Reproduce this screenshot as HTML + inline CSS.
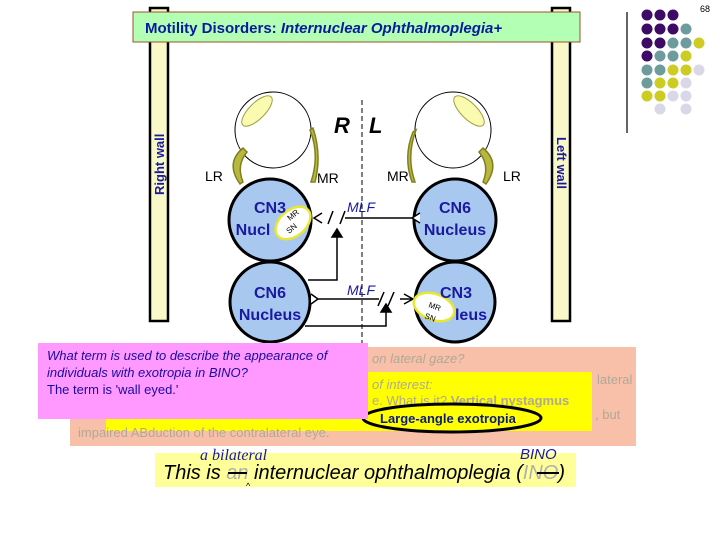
<!DOCTYPE html>
<html><head><meta charset="utf-8"><style>
html,body{margin:0;padding:0;background:#fff;}
svg{display:block;}
</style></head><body>
<svg width="720" height="540" viewBox="0 0 720 540" xmlns="http://www.w3.org/2000/svg" font-family="Liberation Sans, Arial, sans-serif">
<rect width="720" height="540" fill="#fff"/>
<g>
<circle cx="647" cy="15" r="5.5" fill="#3d0a66"/><circle cx="660" cy="15" r="5.5" fill="#3d0a66"/><circle cx="673" cy="15" r="5.5" fill="#3d0a66"/>
<circle cx="647" cy="29" r="5.5" fill="#3d0a66"/><circle cx="660" cy="29" r="5.5" fill="#3d0a66"/><circle cx="673" cy="29" r="5.5" fill="#3d0a66"/><circle cx="686" cy="29" r="5.5" fill="#6e9c9c"/>
<circle cx="647" cy="43" r="5.5" fill="#3d0a66"/><circle cx="660" cy="43" r="5.5" fill="#3d0a66"/><circle cx="673" cy="43" r="5.5" fill="#6e9c9c"/><circle cx="686" cy="43" r="5.5" fill="#6e9c9c"/><circle cx="699" cy="43" r="5.5" fill="#cccc22"/>
<circle cx="647" cy="56" r="5.5" fill="#3d0a66"/><circle cx="660" cy="56" r="5.5" fill="#6e9c9c"/><circle cx="673" cy="56" r="5.5" fill="#6e9c9c"/><circle cx="686" cy="56" r="5.5" fill="#cccc22"/>
<circle cx="647" cy="70" r="5.5" fill="#6e9c9c"/><circle cx="660" cy="70" r="5.5" fill="#6e9c9c"/><circle cx="673" cy="70" r="5.5" fill="#cccc22"/><circle cx="686" cy="70" r="5.5" fill="#cccc22"/><circle cx="699" cy="70" r="5.5" fill="#d8d8e8"/>
<circle cx="647" cy="83" r="5.5" fill="#6e9c9c"/><circle cx="660" cy="83" r="5.5" fill="#cccc22"/><circle cx="673" cy="83" r="5.5" fill="#cccc22"/><circle cx="686" cy="83" r="5.5" fill="#d8d8e8"/>
<circle cx="647" cy="96" r="5.5" fill="#cccc22"/><circle cx="660" cy="96" r="5.5" fill="#cccc22"/><circle cx="673" cy="96" r="5.5" fill="#d8d8e8"/><circle cx="686" cy="96" r="5.5" fill="#d8d8e8"/>
<circle cx="660" cy="109" r="5.5" fill="#d8d8e8"/><circle cx="686" cy="109" r="5.5" fill="#d8d8e8"/>
</g>
<line x1="627" y1="12" x2="627" y2="133" stroke="#000" stroke-width="1.2"/>
<text x="700" y="12" font-size="9" fill="#000">68</text>
<rect x="150" y="8" width="18" height="313" fill="#f8f8c8" stroke="#000" stroke-width="2.5"/>
<rect x="552" y="8" width="18" height="313" fill="#f8f8c8" stroke="#000" stroke-width="2.5"/>
<text transform="translate(164,195) rotate(-90)" font-size="13" font-weight="bold" fill="#1a1aa0">Right wall</text>
<text transform="translate(557,137) rotate(90)" font-size="13" font-weight="bold" fill="#1a1aa0">Left wall</text>
<rect x="133" y="12" width="447" height="30" fill="#b3ffb3" stroke="#a0522d" stroke-width="1"/>
<text x="145" y="33" font-size="15" font-weight="bold" fill="#0a1aa0">Motility Disorders: <tspan font-style="italic">Internuclear Ophthalmoplegia+</tspan></text>
<circle cx="273" cy="130" r="38" fill="#fff" stroke="#000" stroke-width="1"/>
<ellipse cx="257" cy="111" rx="8" ry="20" transform="rotate(45 257 111)" fill="#fafab0" stroke="#a0a040"/>
<circle cx="453" cy="130" r="38" fill="#fff" stroke="#000" stroke-width="1"/>
<ellipse cx="469" cy="111" rx="8" ry="20" transform="rotate(-45 469 111)" fill="#fafab0" stroke="#a0a040"/>
<path d="M243,148 Q225,163 240,184 L243,182 Q236,165 247,152Z" fill="#b8b840" stroke="#808020" stroke-width="1.5"/>
<path d="M310,130 Q320,155 311,182 L315,182 Q322,155 313,128Z" fill="#b8b840" stroke="#808020" stroke-width="1.5"/>
<path d="M416,130 Q406,157 415,182 L412,182 Q403,157 413,132Z" fill="#b8b840" stroke="#808020" stroke-width="1.5"/>
<path d="M483,148 Q501,163 486,184 L483,182 Q490,165 479,152Z" fill="#b8b840" stroke="#808020" stroke-width="1.5"/>
<g font-size="14" fill="#000">
<text x="205" y="181">LR</text><text x="317" y="183">MR</text>
<text x="387" y="181">MR</text><text x="503" y="181">LR</text>
</g>
<text x="334" y="133" font-size="22" font-weight="bold" font-style="italic" fill="#000">R</text>
<text x="369" y="133" font-size="22" font-weight="bold" font-style="italic" fill="#000">L</text>
<line x1="362" y1="100" x2="362" y2="420" stroke="#000" stroke-width="1" stroke-dasharray="5,3"/>
<g stroke="#000" stroke-width="3" fill="#a8c8f0">
<circle cx="270" cy="220" r="41"/><circle cx="270" cy="302" r="40"/>
<circle cx="455" cy="220" r="41"/><circle cx="455" cy="302" r="40"/>
</g>
<g stroke="#000" stroke-width="1.5" fill="none">
<line x1="345" y1="218" x2="412" y2="218"/>
<path d="M322,213 L314,218 L322,223"/>
<path d="M420,213 L412,218 L420,223" fill="#fff"/>
<line x1="328" y1="224" x2="333" y2="211"/><line x1="340" y1="224" x2="345" y2="211"/>
<path d="M308,280 L337,280 L337,232"/>
<path d="M332,237 L337,229 L342,237Z" fill="#000"/>
<line x1="312" y1="299" x2="379" y2="299"/>
<path d="M400,299 L413,299"/>
<path d="M404,294 L413,299 L404,304"/>
<path d="M311,294 L318,299 L311,304" fill="#fff"/>
<line x1="378" y1="306" x2="384" y2="292"/><line x1="388" y1="306" x2="394" y2="292"/>
<path d="M305,326 L386,326 L386,309"/>
<path d="M381,312 L386,304 L391,312Z" fill="#000"/>
</g>
<g font-size="14" font-style="italic" fill="#1a1aa0">
<text x="347" y="212">MLF</text><text x="347" y="295">MLF</text>
</g>
<ellipse cx="293" cy="223" rx="20" ry="13" transform="rotate(-40 293 223)" fill="#fff" stroke="#e8e830" stroke-width="2.5"/>
<ellipse cx="434" cy="307" rx="21" ry="13" transform="rotate(20 434 307)" fill="#fff" stroke="#e8e830" stroke-width="2.5"/>
<text x="290" y="221" font-size="8" fill="#000" transform="rotate(-40 290 221)">MR</text>
<text x="289" y="234" font-size="8" fill="#000" transform="rotate(-40 289 234)">SN</text>
<text x="428" y="307" font-size="8" fill="#000" transform="rotate(20 428 307)">MR</text>
<text x="424" y="318" font-size="8" fill="#000" transform="rotate(20 424 318)">SN</text>
<g font-size="16" font-weight="bold" fill="#1a1aa0" text-anchor="middle">
<text x="270" y="213">CN3</text><text x="253" y="235">Nucl</text>
<text x="270" y="298">CN6</text><text x="270" y="320">Nucleus</text>
<text x="455" y="213">CN6</text><text x="455" y="235">Nucleus</text>
<text x="456" y="298">CN3</text><text x="471" y="320">leus</text>
</g>
<rect x="70" y="347" width="566" height="99" fill="#f8c0a8"/>
<rect x="106" y="372" width="486" height="59" fill="#ffff00"/>
<g font-size="13" fill="#b0a898">
<text x="372" y="363" font-style="italic">on lateral gaze?</text>
<text x="372" y="389" font-style="italic">of interest:</text>
<text x="597" y="384">lateral</text>
<text x="372" y="405">e. What is it? <tspan font-weight="bold">Vertical nystagmus</tspan></text>
<text x="120" y="418">The other is a strabismic issue. What is</text>
<text x="595" y="419">, but</text>
<text x="78" y="437">impaired ABduction of the contralateral eye.</text>
</g>
<ellipse cx="452" cy="418" rx="89" ry="14" fill="#ffff00" stroke="#000" stroke-width="3"/>
<text x="380" y="423" font-size="13" font-weight="bold" fill="#0a1a80">Large-angle exotropia</text>
<rect x="38" y="343" width="330" height="76" fill="#ff99ff"/>
<g font-size="13" fill="#1a0aa0">
<text x="47" y="360" font-style="italic">What term is used to describe the appearance of</text>
<text x="47" y="377" font-style="italic">individuals with exotropia in BINO?</text>
<text x="47" y="394">The term is 'wall eyed.'</text>
</g>
<rect x="155" y="453" width="421" height="34" fill="#ffff99"/>
<text x="163" y="479" font-size="20" font-style="italic" fill="#000" textLength="402" lengthAdjust="spacingAndGlyphs">This is <tspan fill="#b0b0b0">an</tspan> internuclear ophthalmoplegia (<tspan fill="#b0b0b0">INO</tspan>)</text>
<line x1="228" y1="473" x2="247" y2="473" stroke="#000" stroke-width="2"/>
<line x1="537" y1="473" x2="559" y2="473" stroke="#000" stroke-width="2"/>
<text x="246" y="489" font-size="9" fill="#000">^</text>
<text x="200" y="460" font-size="16" font-style="italic" fill="#1a1aa0" font-family="Liberation Serif, serif">a bilateral</text>
<text x="520" y="459" font-size="15" font-style="italic" fill="#1a1aa0">BINO</text>
</svg>
</body></html>
